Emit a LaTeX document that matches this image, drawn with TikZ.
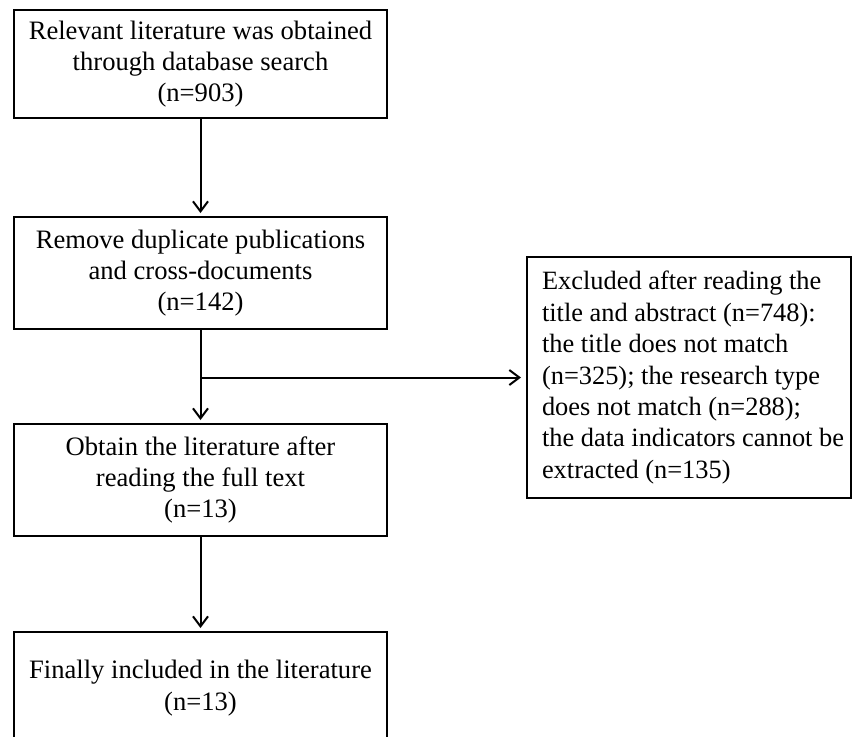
\documentclass[tikz,border=0pt]{standalone}
\usepackage{fontspec}
\setmainfont{Liberation Serif}
\usetikzlibrary{arrows.meta}
\tikzset{
    stepbox/.style={draw, line width=1pt, rectangle, align=center,
        minimum width=186.5pt, inner sep=0pt,
        font=\fontsize{13.3}{15.6}\selectfont},
    sidebox/.style={draw, line width=1pt, rectangle,
        minimum width=162pt, minimum height=120.5pt, inner sep=0pt,
        font=\fontsize{13.2}{15.7}\selectfont},
    flowarrow/.style={line width=1pt, -{Straight Barb[length=5pt,width=7.5pt]}, shorten >=1.5pt}
}

\begin{document}
\begin{tikzpicture}[x=0.5pt, y=-0.5pt]
    \useasboundingbox (0,0) rectangle (854,736);

    \node[stepbox, minimum height=54pt] (search) at (200.5, 64)
        {Relevant literature was obtained\\through database search\\(n=903)};
    \node[stepbox, minimum height=56pt] (dedup) at (200.5, 273)
        {Remove duplicate publications\\and cross-documents\\(n=142)};
    \node[stepbox, minimum height=56pt] (fulltext) at (200.5, 480)
        {Obtain the literature after\\reading the full text\\(n=13)};
    % bottom edge runs off the page
    \node[stepbox, minimum height=56pt] (included) at (200.5, 688)
        {Finally included in the literature\\(n=13)};

    \node[sidebox] (excluded) at (689, 377.5)
        {\hspace*{7pt}\begin{minipage}{154pt}\raggedright
        Excluded after reading the\\title and abstract (n=748):\\the title does not match\\(n=325); the research type\\does not match (n=288);\\the data indicators cannot be\\extracted (n=135)\end{minipage}};

    \draw[flowarrow] (search) -- (dedup);
    \draw[flowarrow] (dedup) -- (fulltext);
    \coordinate (split) at (dedup.south |- excluded.west);
    \draw[flowarrow, shorten >=2.5pt] (split) -- (excluded.west);
    \draw[flowarrow] (fulltext) -- (included);
\end{tikzpicture}
\end{document}
